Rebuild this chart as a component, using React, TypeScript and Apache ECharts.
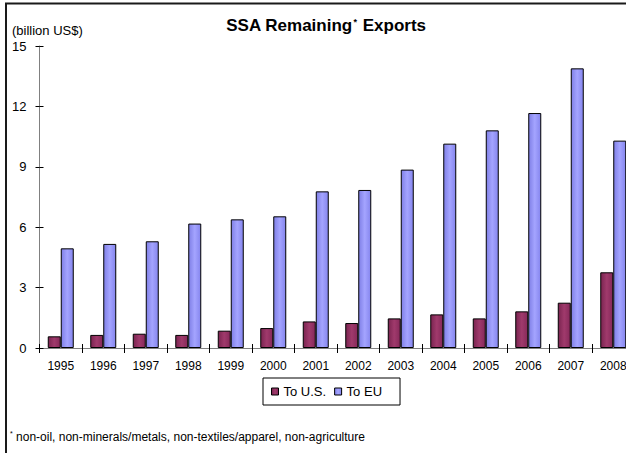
import React, { useEffect, useRef } from "react";
import * as echarts from "echarts";

const years = ["1995", "1996", "1997", "1998", "1999", "2000", "2001", "2002", "2003", "2004", "2005", "2006", "2007", "2008"];
const toUS = [0.58, 0.65, 0.71, 0.65, 0.86, 0.99, 1.32, 1.24, 1.47, 1.67, 1.47, 1.82, 2.25, 3.76];
const toEU = [4.95, 5.17, 5.3, 6.18, 6.39, 6.54, 7.78, 7.85, 8.86, 10.15, 10.81, 11.67, 13.89, 10.3];
const seriesNames = ["To U.S.", "To EU"];
const yTicks = { min: 0, max: 15, interval: 3 };

const FONT = "'Liberation Sans', Arial, sans-serif";

export default function App() {
  const ref = useRef<HTMLDivElement>(null);
  useEffect(() => {
    if (!ref.current) return;
    const chart = echarts.init(ref.current, null, { renderer: "svg" });
    const grad = (a: string, b: string, c: string) =>
      new echarts.graphic.LinearGradient(0, 0, 1, 0, [
        { offset: 0, color: a },
        { offset: 0.5, color: b },
        { offset: 1, color: c },
      ]);
    const axisLine = { show: true, lineStyle: { color: "#808080", width: 1 } };
    chart.setOption({
      animation: false,
      backgroundColor: "#ffffff",
      textStyle: { fontFamily: FONT },
      title: {
        text: "SSA Remaining{sup|*} Exports",
        left: 321,
        textAlign: "center",
        top: 12,
        textStyle: {
          fontFamily: FONT,
          fontSize: 17,
          fontWeight: "bold",
          color: "#000",
          rich: {
            sup: { fontSize: 9, fontWeight: "bold", verticalAlign: "top", padding: [0, 1, 8, 1], fontFamily: FONT },
          },
        },
      },
      legend: {
        data: seriesNames,
        left: 263,
        top: 378,
        orient: "horizontal",
        itemWidth: 7,
        itemHeight: 7,
        itemGap: 8,
        padding: [7, 18, 7, 8],
        borderColor: "#000",
        borderWidth: 1,
        icon: "rect",
        textStyle: { fontFamily: FONT, fontSize: 13, color: "#000" },
        itemStyle: { borderColor: "#000", borderWidth: 1 },
      },
      grid: { left: 39.5, top: 46, width: 595, bottom: 105, containLabel: false, outerBoundsMode: "none" },
      xAxis: [
        {
          type: "category",
          data: years,
          axisLine,
          axisTick: { show: true, alignWithLabel: false, length: 5, lineStyle: { color: "#000" } },
          axisLabel: { color: "#000", fontSize: 12, fontFamily: FONT, margin: 12, interval: 0 },
        },
        {
          type: "category",
          data: years,
          position: "bottom",
          axisLine: { show: false },
          axisTick: { show: true, inside: true, length: 4, lineStyle: { color: "#000" } },
          axisLabel: { show: false },
        },
      ],
      yAxis: [
        {
          type: "value",
          ...yTicks,
          axisLine,
          splitLine: { show: false },
          axisTick: { show: true, length: 4, lineStyle: { color: "#000" } },
          axisLabel: { color: "#000", fontSize: 13, fontFamily: FONT, margin: 13 },
        },
        {
          type: "value",
          ...yTicks,
          position: "left",
          offset: 0,
          axisLine: { show: false },
          splitLine: { show: false },
          axisTick: { show: true, inside: true, length: 4, lineStyle: { color: "#000" } },
          axisLabel: { show: false },
        },
      ],
      series: [
        {
          name: seriesNames[0],
          type: "bar",
          data: toUS,
          barWidth: 13,
          barGap: "0%",
          itemStyle: { color: grad("#7a2450", "#a03a6c", "#86295a"), borderColor: "#000", borderWidth: 1 },
        },
        {
          name: seriesNames[1],
          type: "bar",
          data: toEU,
          barWidth: 13,
          barGap: "0%",
          itemStyle: { color: grad("#7f7fe6", "#a4a4ff", "#8585ee"), borderColor: "#000", borderWidth: 1 },
        },
      ],
      graphic: [
        {
          type: "rect",
          z: -1,
          shape: { x: 6, y: 3.5, width: 700, height: 600 },
          style: { fill: "none", stroke: "#1a1a1a", lineWidth: 2 },
        },
        {
          type: "text",
          left: 12,
          top: 24,
          style: { text: "(billion US$)", font: `13px ${FONT}`, fill: "#000" },
        },
        {
          type: "text",
          left: 10,
          top: 430,
          style: {
            text: "{s|*} non-oil, non-minerals/metals, non-textiles/apparel, non-agriculture",
            font: `12px ${FONT}`,
            fill: "#000",
            rich: { s: { fontSize: 7, verticalAlign: "top", padding: [0, 0, 6, 0], fontFamily: FONT } },
          },
        },
      ],
    });
    return () => chart.dispose();
  }, []);
  return <div ref={ref} style={{ width: 626, height: 453, position: "absolute", left: 0, top: 0 }} />;
}
